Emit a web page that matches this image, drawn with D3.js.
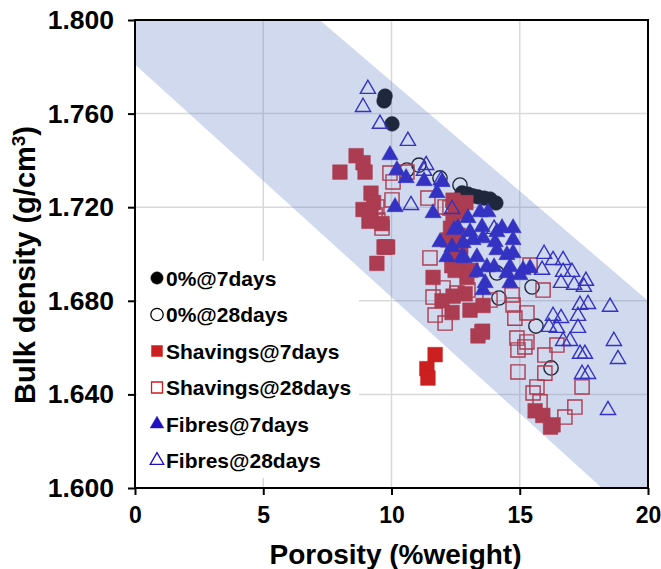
<!DOCTYPE html>
<html>
<head>
<meta charset="utf-8">
<script src="https://cdn.jsdelivr.net/npm/d3@7"></script>
<style>
  body { margin: 0; background: #fff; }
  text { font-family: "Liberation Sans", Arial, sans-serif; font-weight: bold; }
</style>
</head>
<body>
<div id="plot"></div>
<script>
// series names (legend order)
let seriesNames = ['0%@7days', '0%@28days', 'Shavings@7days', 'Shavings@28days', 'Fibres@7days', 'Fibres@28days'];

// [porosity, bulk density]
let plain7 = [
  [9.75, 1.7675], [9.71, 1.7654], [10.02, 1.7556], [12.40, 1.7209], [12.75, 1.7261],
  [12.98, 1.7256], [13.18, 1.7248], [13.37, 1.7244], [13.61, 1.7239], [13.84, 1.7235], [14.07, 1.7218]
];
let plain28 = [
  [10.60, 1.7359], [11.07, 1.7380], [11.89, 1.7325], [12.67, 1.7295], [14.11, 1.6919],
  [14.19, 1.6812], [15.48, 1.6859], [15.63, 1.6692], [16.22, 1.6513]
];
let shav7 = [
  [8.62, 1.742], [8.89, 1.739], [8.97, 1.735], [7.99, 1.735], [9.20, 1.726], [9.30, 1.722],
  [8.89, 1.719], [9.20, 1.717], [9.12, 1.714], [9.63, 1.713], [9.71, 1.703], [9.85, 1.703], [9.43, 1.696],
  [12.40, 1.723], [12.50, 1.720], [12.40, 1.715], [12.65, 1.718], [12.90, 1.722], [12.30, 1.711],
  [12.60, 1.708], [12.20, 1.706], [12.70, 1.703], [12.40, 1.700], [12.35, 1.695], [12.70, 1.694],
  [13.10, 1.693], [11.62, 1.690], [12.48, 1.693], [11.97, 1.680], [12.40, 1.682], [12.87, 1.683],
  [13.06, 1.676], [12.36, 1.675], [13.57, 1.678], [13.37, 1.665], [12.94, 1.690], [13.55, 1.667],
  [11.70, 1.657], [11.38, 1.651], [11.42, 1.647],
  [15.60, 1.633], [15.90, 1.631], [16.20, 1.626], [16.30, 1.627]
];
let shav28 = [
  [9.94, 1.7346], [10.06, 1.7308], [10.60, 1.7350], [10.02, 1.7231], [9.43, 1.7201], [9.36, 1.7167],
  [9.47, 1.7145], [9.63, 1.7111], [9.75, 1.7030], [11.42, 1.7239], [12.09, 1.7201], [12.28, 1.7197],
  [11.50, 1.6983], [12.01, 1.6855], [12.55, 1.6833], [11.62, 1.6816], [11.70, 1.6739], [12.09, 1.6705],
  [13.53, 1.6667], [12.98, 1.6846], [13.84, 1.6803], [15.40, 1.6953], [15.91, 1.6846], [14.70, 1.6825],
  [14.74, 1.6782], [15.28, 1.6748], [14.81, 1.6726], [14.89, 1.6641], [15.28, 1.6624], [14.93, 1.6590],
  [15.20, 1.6603], [15.98, 1.6568], [16.45, 1.6611], [14.93, 1.6496], [15.98, 1.6491], [15.67, 1.6432],
  [15.52, 1.6406], [15.79, 1.6368], [17.43, 1.6432], [17.15, 1.6346], [16.76, 1.6303]
];
let fib7 = [
  [9.94, 1.7423], [10.21, 1.7359], [10.57, 1.7325], [10.14, 1.7201], [11.27, 1.7312], [11.97, 1.7308],
  [11.77, 1.7261], [11.62, 1.7175], [13.45, 1.7179], [13.76, 1.7179], [12.59, 1.7111], [13.53, 1.7115],
  [14.31, 1.7111], [14.74, 1.7111], [11.89, 1.7051], [12.36, 1.7030], [12.79, 1.7047], [13.57, 1.7068],
  [14.04, 1.7051], [14.74, 1.7060], [12.16, 1.6987], [12.75, 1.6987], [13.33, 1.6987], [14.11, 1.7017],
  [14.50, 1.6996], [14.62, 1.6944], [15.13, 1.6932], [13.72, 1.6944], [15.40, 1.6940], [15.01, 1.6910],
  [14.50, 1.6919], [14.62, 1.6876], [14.74, 1.7004], [13.65, 1.6876], [13.57, 1.6846], [13.33, 1.6923],
  [14.00, 1.6944], [13.06, 1.7094], [13.18, 1.7060], [12.83, 1.6983], [12.44, 1.7103], [12.98, 1.7154],
  [14.11, 1.7094]
];
let fib28 = [
  [9.08, 1.7705], [8.89, 1.7628], [9.55, 1.7556], [10.64, 1.7483], [11.35, 1.7380], [11.27, 1.7355],
  [10.76, 1.7209], [11.93, 1.7316], [12.36, 1.7192], [14.00, 1.7107], [15.95, 1.7000], [16.30, 1.6974],
  [16.69, 1.6974], [15.87, 1.6932], [16.69, 1.6923], [17.04, 1.6923], [16.61, 1.6876], [17.12, 1.6868],
  [17.58, 1.6885], [17.50, 1.6859], [17.35, 1.6782], [17.66, 1.6786], [18.52, 1.6774], [16.30, 1.6735],
  [16.61, 1.6726], [16.14, 1.6688], [16.45, 1.6684], [17.27, 1.6735], [17.27, 1.6684], [16.69, 1.6628],
  [16.96, 1.6628], [18.67, 1.6628], [17.35, 1.6573], [17.54, 1.6573], [18.83, 1.6551], [17.43, 1.6487],
  [17.66, 1.6487], [18.44, 1.6333]
];

// shaded band (corners in data units)
let band = [[0, 1.8], [7.2, 1.8], [20, 1.68], [20, 1.6], [18.2, 1.6], [0, 1.781]];

let xTicks = [0, 5, 10, 15, 20];
let yTicks = [1.60, 1.64, 1.68, 1.72, 1.76, 1.80];

let width = 661, height = 569;
let margin = { top: 20, bottom: 81, left: 135, right: 13 };

let svg = d3.select('#plot')
  .append('svg')
  .attr('width', width)
  .attr('height', height);

let xScale = d3.scaleLinear()
  .domain([0, 20])
  .range([margin.left, width - margin.right]);

let yScale = d3.scaleLinear()
  .domain([1.6, 1.8])
  .range([height - margin.bottom, margin.top]);

// grid
svg.append('g')
  .selectAll('line.gx')
  .data(xTicks.slice(1, -1))
  .enter()
  .append('line')
  .attr('x1', d => xScale(d)).attr('x2', d => xScale(d))
  .attr('y1', yScale(1.8)).attr('y2', yScale(1.6))
  .attr('stroke', '#d9d9d9').attr('stroke-width', 1.5);

svg.append('g')
  .selectAll('line.gy')
  .data(yTicks.slice(1, -1))
  .enter()
  .append('line')
  .attr('x1', xScale(0)).attr('x2', xScale(20))
  .attr('y1', d => yScale(d)).attr('y2', d => yScale(d))
  .attr('stroke', '#d9d9d9').attr('stroke-width', 1.5);

const black = '#000000', red = '#cc1f1f', blue = '#2010c0';
let sym = d3.symbol();

function drawSeries(data, type, color, filled, size) {
  svg.append('g')
    .selectAll('path')
    .data(data)
    .enter()
    .append('path')
    .attr('transform', d => `translate(${xScale(d[0])},${yScale(d[1])})`)
    .attr('d', sym.type(type).size(size)())
    .attr('fill', filled ? color : 'none')
    .attr('stroke', color)
    .attr('stroke-width', filled ? 0.5 : 1.4);
}

drawSeries(plain7, d3.symbolCircle, black, true, 170);
drawSeries(plain28, d3.symbolCircle, black, false, 160);
drawSeries(shav7, d3.symbolSquare, red, true, 215);
drawSeries(shav28, d3.symbolSquare, red, false, 200);
drawSeries(fib7, d3.symbolTriangle, blue, true, 115);
drawSeries(fib28, d3.symbolTriangle, blue, false, 100);

// legend
let legend = svg.append('g');
legend.append('rect')
  .attr('x', 137).attr('y', 261)
  .attr('width', 222).attr('height', 217)
  .attr('fill', '#fff');

let legendItems = [
  { type: d3.symbolCircle, color: black, filled: true },
  { type: d3.symbolCircle, color: black, filled: false },
  { type: d3.symbolSquare, color: red, filled: true },
  { type: d3.symbolSquare, color: red, filled: false },
  { type: d3.symbolTriangle, color: blue, filled: true },
  { type: d3.symbolTriangle, color: blue, filled: false }
];

legendItems.forEach((it, i) => {
  let y = 278 + i * 36.5;
  legend.append('path')
    .attr('transform', `translate(157,${y})`)
    .attr('d', sym.type(it.type).size(it.type === d3.symbolTriangle ? 80 : 120)())
    .attr('fill', it.filled ? it.color : 'none')
    .attr('stroke', it.color)
    .attr('stroke-width', it.filled ? 0.5 : 1.3);
  legend.append('text')
    .attr('x', 166).attr('y', y + 7.5)
    .attr('font-size', 21)
    .text(seriesNames[i]);
});

// translucent band on top of the points
svg.append('path')
  .datum(band)
  .attr('d', d3.line().x(d => xScale(d[0])).y(d => yScale(d[1])))
  .attr('fill', 'rgb(98,128,198)')
  .attr('fill-opacity', 0.3);

// axes
let yAxis = svg.append('g')
  .attr('transform', `translate(${margin.left},0)`)
  .call(d3.axisLeft(yScale).tickValues(yTicks).tickFormat(d3.format('.3f')).tickSize(7).tickPadding(14));

let xAxis = svg.append('g')
  .attr('transform', `translate(0,${height - margin.bottom})`)
  .call(d3.axisBottom(xScale).tickValues(xTicks).tickSize(7).tickPadding(12));

[xAxis, yAxis].forEach(a => {
  a.select('.domain').remove();
  a.selectAll('line').attr('stroke', '#000').attr('stroke-width', 2);
  a.selectAll('text').attr('fill', '#000')
    .style('font-family', '"Liberation Sans", Arial, sans-serif').style('font-weight', 'bold');
});
xAxis.selectAll('text').attr('font-size', 23);
yAxis.selectAll('text').attr('font-size', 26.5);

// frame
svg.append('rect')
  .attr('x', xScale(0)).attr('y', yScale(1.8))
  .attr('width', xScale(20) - xScale(0))
  .attr('height', yScale(1.6) - yScale(1.8))
  .attr('fill', 'none').attr('stroke', '#000').attr('stroke-width', 2);

// axis titles
svg.append('text')
  .attr('x', (xScale(0) + xScale(20)) / 2 + 4).attr('y', 564)
  .attr('text-anchor', 'middle')
  .attr('font-size', 28)
  .text('Porosity (%weight)');

let yt = svg.append('text')
  .attr('transform', 'translate(35,265) rotate(-90)')
  .attr('text-anchor', 'middle')
  .attr('font-size', 29);
yt.append('tspan').text('Bulk density (g/cm');
yt.append('tspan').attr('baseline-shift', 'super').attr('font-size', 19).text('3');
yt.append('tspan').text(')');
</script>
</body>
</html>
